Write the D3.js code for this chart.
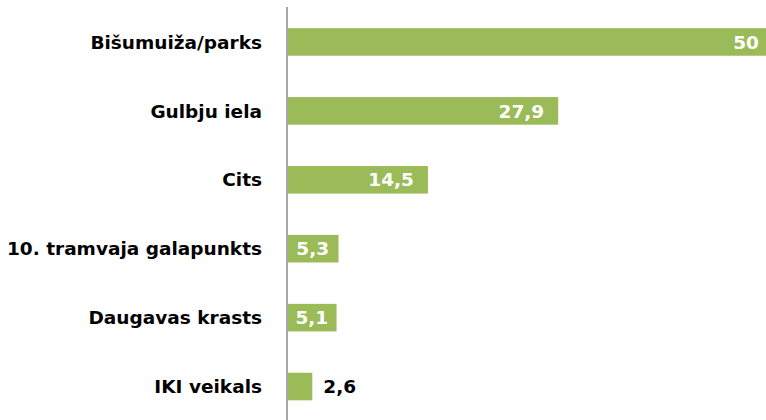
<!DOCTYPE html>
<html>
<head>
<meta charset="utf-8">
<script src="https://cdn.jsdelivr.net/npm/d3@7"></script>
<style>
  body { margin: 0; background: #fff; }
  svg text { font-family: "DejaVu Sans", sans-serif; font-weight: bold; }
</style>
</head>
<body>
<svg id="canvas" width="766" height="420"></svg>
<script>
const CATEGORIES = ["Bišumuiža/parks", "Gulbju iela", "Cits", "10. tramvaja galapunkts", "Daugavas krasts", "IKI veikals"]
const VALUES = [50, 27.9, 14.5, 5.3, 5.1, 2.6]

const GREEN = "#9bbb59"

let canvas = d3.select('#canvas')

let xScale = d3.scaleLinear()
    .domain([0, 50])
    .range([287, 773])

let yScale = d3.scaleBand()
    .domain(CATEGORIES)
    .range([7.5, 421])
    .paddingInner(0.6)
    .paddingOuter(0.3)

// axis line
canvas.append('line')
    .attr('x1', xScale(0))
    .attr('x2', xScale(0))
    .attr('y1', 7)
    .attr('y2', 420)
    .attr('stroke', '#a6a6a6')
    .attr('stroke-width', 2)

let rows = canvas.selectAll('g.row')
    .data(CATEGORIES)
    .enter()
    .append('g')
    .attr('class', 'row')

rows.append('rect')
    .attr('x', xScale(0) + 1)
    .attr('y', (d) => yScale(d))
    .attr('width', (d, i) => xScale(VALUES[i]) - xScale(0) - 1)
    .attr('height', yScale.bandwidth())
    .attr('fill', GREEN)

rows.append('text')
    .attr('x', 262)
    .attr('y', (d) => yScale(d) + yScale.bandwidth() / 2)
    .attr('dy', '0.36em')
    .attr('text-anchor', 'end')
    .attr('font-size', 18.5)
    .attr('fill', '#000')
    .text((d) => d)

let fmt = (v) => String(v).replace('.', ',')

rows.append('text')
    .attr('class', 'value')
    .attr('y', (d) => yScale(d) + yScale.bandwidth() / 2)
    .attr('dy', '0.36em')
    .attr('font-size', 18.5)
    .text((d, i) => fmt(VALUES[i]))
    .each(function (d, i) {
        let el = d3.select(this)
        let w = this.getComputedTextLength()
        let x0 = xScale(0)
        let x1 = xScale(VALUES[i])
        if (x1 - x0 < w + 8) {
            // outside end
            el.attr('x', x1 + 11).attr('text-anchor', 'start').attr('fill', '#000')
        } else if (x1 - x0 < w + 30) {
            el.attr('x', (x0 + x1) / 2).attr('text-anchor', 'middle').attr('fill', '#fff')
        } else {
            el.attr('x', x1 - 14).attr('text-anchor', 'end').attr('fill', '#fff')
        }
    })
</script>
</body>
</html>
